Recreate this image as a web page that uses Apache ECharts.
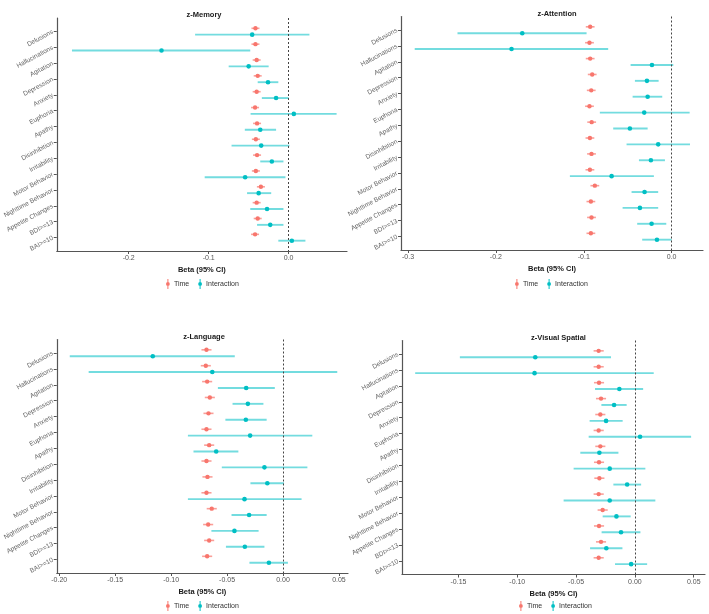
<!DOCTYPE html>
<html>
<head>
<meta charset="utf-8">
<script src="https://cdn.jsdelivr.net/npm/echarts@6/dist/echarts.min.js"></script>
<style>
	html, body { margin: 0; padding: 0; background: #fff; }
	#chart { width: 709px; height: 614px; }
</style>
</head>
<body>
<div id="chart"></div>
<script>
var categories = ['Delusions', 'Hallucinations', 'Agitation', 'Depression', 'Anxiety', 'Euphoria', 'Apathy',
	'Disinhibition', 'Irritability', 'Motor Behavior', 'Nighttime Behavior', 'Appetite Changes', 'BDI>=13', 'BAI>=10'];

// z-Memory
var memTimeEst = [-0.0415, -0.0415, -0.040, -0.0387, -0.040, -0.042, -0.0395, -0.041, -0.0395, -0.041, -0.0347, -0.040, -0.0387, -0.042];
var memTimeLo = [-0.0465, -0.0465, -0.045, -0.0437, -0.045, -0.047, -0.0445, -0.046, -0.0445, -0.046, -0.0397, -0.045, -0.0437, -0.047];
var memTimeHi = [-0.0365, -0.0365, -0.035, -0.0337, -0.035, -0.037, -0.0345, -0.036, -0.0345, -0.036, -0.0297, -0.035, -0.0337, -0.037];
var memIntEst = [-0.0456, -0.159, -0.050, -0.0258, -0.0157, 0.0065, -0.0355, -0.0343, -0.021, -0.0544, -0.0375, -0.027, -0.023, 0.004];
var memIntLo = [-0.117, -0.271, -0.075, -0.0387, -0.0335, -0.0476, -0.0548, -0.0714, -0.0355, -0.105, -0.052, -0.048, -0.0395, -0.0129];
var memIntHi = [0.026, -0.048, -0.025, -0.0129, 0.000, 0.060, -0.0157, 0.001, -0.0065, -0.004, -0.0218, -0.0065, -0.0065, 0.021];
var memTicks = [-0.2, -0.1, 0];

// z-Attention
var attTimeEst = [-0.0927, -0.0935, -0.0927, -0.0904, -0.0915, -0.0935, -0.091, -0.093, -0.0912, -0.093, -0.0874, -0.0919, -0.0912, -0.0919];
var attTimeLo = [-0.0977, -0.0985, -0.0977, -0.0954, -0.0965, -0.0985, -0.096, -0.098, -0.0962, -0.098, -0.0924, -0.0969, -0.0962, -0.0969];
var attTimeHi = [-0.0877, -0.0885, -0.0877, -0.0854, -0.0865, -0.0885, -0.086, -0.088, -0.0862, -0.088, -0.0824, -0.0869, -0.0862, -0.0869];
var attIntEst = [-0.170, -0.1822, -0.0224, -0.0281, -0.0273, -0.0312, -0.0475, -0.0153, -0.0236, -0.0683, -0.0308, -0.0361, -0.0228, -0.0167];
var attIntLo = [-0.2437, -0.2924, -0.0467, -0.0418, -0.0444, -0.0817, -0.0665, -0.0513, -0.0372, -0.1158, -0.0456, -0.0558, -0.0392, -0.0335];
var attIntHi = [-0.0968, -0.0722, 0.0019, -0.0148, -0.0107, 0.0205, -0.0273, 0.0209, -0.0076, -0.0202, -0.0153, -0.0153, -0.0061, 0.000];
var attTicks = [-0.3, -0.2, -0.1, 0];

// z-Language
var lanTimeEst = [-0.0684, -0.069, -0.0678, -0.0654, -0.0666, -0.0684, -0.066, -0.0684, -0.0675, -0.0684, -0.0637, -0.0669, -0.066, -0.0678];
var lanTimeLo = [-0.0729, -0.0735, -0.0723, -0.0699, -0.0711, -0.0729, -0.0705, -0.0729, -0.072, -0.0729, -0.0682, -0.0714, -0.0705, -0.0723];
var lanTimeHi = [-0.0639, -0.0645, -0.0633, -0.0609, -0.0621, -0.0639, -0.0615, -0.0639, -0.063, -0.0639, -0.0592, -0.0624, -0.0615, -0.0633];
var lanIntEst = [-0.1164, -0.0632, -0.0329, -0.0314, -0.0332, -0.0294, -0.0597, -0.0166, -0.014, -0.0344, -0.0303, -0.0434, -0.0341, -0.0126];
var lanIntLo = [-0.1906, -0.1737, -0.0582, -0.0451, -0.0515, -0.085, -0.080, -0.0547, -0.0291, -0.085, -0.046, -0.064, -0.051, -0.030];
var lanIntHi = [-0.0431, 0.0485, -0.0073, -0.0175, -0.0146, 0.0262, -0.0399, 0.0218, 0.0009, 0.0166, -0.0146, -0.0218, -0.0166, 0.0044];
var lanTicks = [-0.2, -0.15, -0.1, -0.05, 0, 0.05];

// z-Visual Spatial
var visTimeEst = [-0.0308, -0.0308, -0.0305, -0.0288, -0.0294, -0.0308, -0.0294, -0.0305, -0.0302, -0.0308, -0.0274, -0.0305, -0.0288, -0.0308];
var visTimeLo = [-0.0351, -0.0351, -0.0348, -0.0331, -0.0337, -0.0351, -0.0337, -0.0348, -0.0345, -0.0351, -0.0317, -0.0348, -0.0331, -0.0351];
var visTimeHi = [-0.0265, -0.0265, -0.0262, -0.0245, -0.0251, -0.0265, -0.0251, -0.0262, -0.0259, -0.0265, -0.0231, -0.0262, -0.0245, -0.0265];
var visIntEst = [-0.0847, -0.0853, -0.0132, -0.0177, -0.0245, 0.0044, -0.0302, -0.0214, -0.0066, -0.0214, -0.0157, -0.0118, -0.0243, -0.0032];
var visIntLo = [-0.1488, -0.1868, -0.0339, -0.0285, -0.0385, -0.0393, -0.0464, -0.0521, -0.0183, -0.0606, -0.0274, -0.0283, -0.0381, -0.0169];
var visIntHi = [-0.0203, 0.016, 0.007, -0.007, -0.0104, 0.0478, -0.014, 0.0089, 0.0053, 0.0174, -0.0036, 0.0047, -0.0106, 0.0104];
var visTicks = [-0.15, -0.1, -0.05, 0, 0.05];

var RED = '#F8766D';
var TEAL = '#00BFC4';
var FONT = '"Liberation Sans", Arial, sans-serif';
var LEGEND_ICON = 'path://M1.5,0h1v3.4h-1z M2,3.1a1.9,1.9 0 1,1 0,3.8a1.9,1.9 0 1,1 0,-3.8z M1.5,6.6h1v3.4h-1z';

var panels = [
	{ title: 'z-Memory', time: [memTimeEst, memTimeLo, memTimeHi], inter: [memIntEst, memIntLo, memIntHi], ticks: memTicks, dec: 1,
		grid: { left: 51, top: 18, width: 296, height: 233 }, xmin: -0.290, xmax: 0.073, legend: { left: 166, top: 279 } },
	{ title: 'z-Attention', time: [attTimeEst, attTimeLo, attTimeHi], inter: [attIntEst, attIntLo, attIntHi], ticks: attTicks, dec: 1,
		grid: { left: 401, top: 16.5, width: 302, height: 233.5 }, xmin: -0.308, xmax: 0.0357, legend: { left: 515, top: 279 } },
	{ title: 'z-Language', time: [lanTimeEst, lanTimeLo, lanTimeHi], inter: [lanIntEst, lanIntLo, lanIntHi], ticks: lanTicks, dec: 2,
		grid: { left: 50, top: 339.5, width: 298, height: 233.5 }, xmin: -0.2022, xmax: 0.0581, legend: { left: 166, top: 601 } },
	{ title: 'z-Visual Spatial', time: [visTimeEst, visTimeLo, visTimeHi], inter: [visIntEst, visIntLo, visIntHi], ticks: visTicks, dec: 2,
		grid: { left: 402, top: 340.5, width: 303, height: 234 }, xmin: -0.198, xmax: 0.0596, legend: { left: 519, top: 601 } }
];

function rangeItem(dodge, dotColor, lineColor, lw, r) {
	return function(params, api) {
		var row = api.value(3) + dodge;
		var p = api.coord([api.value(0), row]);
		var lo = api.coord([api.value(1), row]);
		var hi = api.coord([api.value(2), row]);
		return {
			type: 'group',
			children: [
				{ type: 'line', shape: { x1: lo[0], y1: p[1], x2: hi[0], y2: p[1] }, style: { stroke: lineColor, lineWidth: lw } },
				{ type: 'circle', shape: { cx: p[0], cy: p[1], r: r }, style: { fill: dotColor } }
			]
		};
	};
}

function rows(arrs) {
	var out = [];
	for (var i = 0; i < categories.length; i++) {
		out.push([arrs[0][i], arrs[1][i], arrs[2][i], i + 1]);
	}
	return out;
}

var rowValues = categories.map(function(c, i) { return i + 1; });

var option = {
	backgroundColor: '#FFFFFF',
	textStyle: { fontFamily: FONT },
	title: [],
	legend: [],
	grid: [],
	xAxis: [],
	yAxis: [],
	series: []
};

panels.forEach(function(pn, k) {
	var g = pn.grid;
	option.grid.push({ left: g.left, top: g.top, width: g.width, height: g.height, containLabel: false });
	option.title.push({
		text: pn.title, left: g.left + g.width / 2, top: g.top - 12, textAlign: 'center',
		textStyle: { fontSize: 7.5, fontWeight: 'bold', color: '#1a1a1a', fontFamily: FONT }
	});
	option.legend.push({
		data: ['Time', 'Interaction'], left: pn.legend.left, top: pn.legend.top,
		icon: LEGEND_ICON, itemWidth: 4, itemHeight: 10, itemGap: 9, padding: 0,
		textStyle: { fontSize: 7, color: '#333', fontFamily: FONT, padding: [0, 0, 0, -1] },
		selectedMode: false
	});
	var dec = pn.dec;
	option.xAxis.push({
		type: 'value', gridIndex: k, min: pn.xmin, max: pn.xmax,
		name: 'Beta (95% CI)', nameLocation: 'middle', nameGap: 15,
		nameTextStyle: { fontSize: 7.5, fontWeight: 'bold', color: '#1a1a1a', fontFamily: FONT },
		splitLine: { show: false },
		axisLine: { show: true, onZero: false, lineStyle: { color: '#555', width: 1.2 } },
		axisTick: { show: true, length: 3, customValues: pn.ticks, lineStyle: { color: '#555' } },
		axisLabel: {
			customValues: pn.ticks, fontSize: 7, color: '#555', margin: 4, fontFamily: FONT,
			formatter: function(v) { return (Math.abs(v) < 1e-9 ? 0 : v).toFixed(dec); }
		}
	});
	option.yAxis.push({
		type: 'value', gridIndex: k, inverse: true, min: 0.15, max: 14.85,
		splitLine: { show: false },
		axisLine: { show: true, onZero: false, lineStyle: { color: '#555', width: 1.2 } },
		axisTick: { show: true, length: 3, customValues: rowValues, lineStyle: { color: '#555' } },
		axisLabel: {
			customValues: rowValues, rotate: 28, fontSize: 6.5, color: '#666', margin: 4, fontFamily: FONT,
			formatter: function(v) { return categories[Math.round(v) - 1] || ''; }
		}
	});
	option.series.push({
		name: 'Time', type: 'custom', xAxisIndex: k, yAxisIndex: k,
		itemStyle: { color: RED },
		renderItem: rangeItem(-0.2, RED, 'rgba(248,118,109,0.7)', 1.6, 2.2),
		encode: { x: [0, 1, 2], y: 3 },
		data: rows(pn.time)
	});
	option.series.push({
		name: 'Interaction', type: 'custom', xAxisIndex: k, yAxisIndex: k,
		itemStyle: { color: TEAL },
		renderItem: rangeItem(0.2, TEAL, 'rgba(0,191,196,0.55)', 1.9, 2.3),
		encode: { x: [0, 1, 2], y: 3 },
		data: rows(pn.inter),
		markLine: {
			silent: true, symbol: ['none', 'none'], label: { show: false },
			lineStyle: { type: [2, 2], color: '#444', width: 1 },
			data: [{ xAxis: 0 }]
		}
	});
});

var chart = echarts.init(document.getElementById('chart'));
chart.setOption(option);
</script>
</body>
</html>
